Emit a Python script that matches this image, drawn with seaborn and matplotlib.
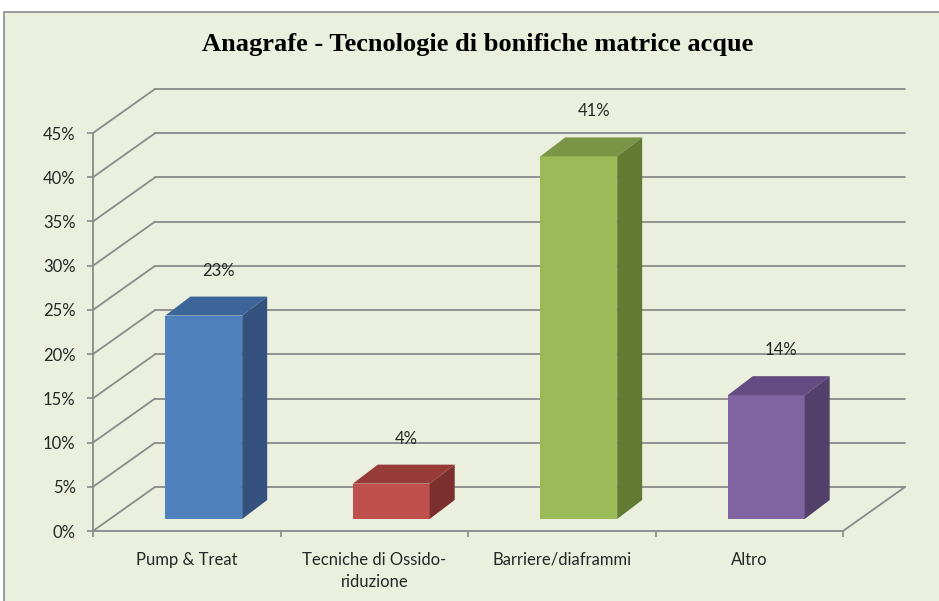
import matplotlib
matplotlib.use("Agg")
import pandas as pd
import matplotlib.pyplot as plt
import seaborn as sns
from matplotlib.patches import Polygon, Rectangle
from matplotlib.lines import Line2D
from matplotlib.transforms import offset_copy

categories = ["Pump & Treat", "Tecniche di Ossido-\nriduzione", "Barriere/diaframmi", "Altro"]
shares = [23, 4, 41, 14]
front_colors = ["#4F81BD", "#C0504D", "#9BBB59", "#8064A2"]
top_colors = ["#3C669A", "#973B39", "#7A9545", "#644C82"]
side_colors = ["#34527D", "#7C302E", "#637A33", "#523F6A"]
y_ticks = list(range(0, 50, 5))
title = "Anagrafe - Tecnologie di bonifiche matrice acque"

sns.set_theme(style="white")
plt.rcParams["font.family"] = ["Lato", "DejaVu Sans"]

W, H = 939, 601
fig = plt.figure(figsize=(W / 100, H / 100), dpi=100)
fig.patch.set_facecolor("white")
# chart area frame (cut at right/bottom like the screenshot)
fig.patches.append(Rectangle((4 / W, -0.02), 1.05, (H - 12) / H + 0.02,
                             transform=fig.transFigure, facecolor="#EBF0DE",
                             edgecolor="#8C8C8C", lw=1.2, zorder=-5))

ax = fig.add_axes([93 / W, 70 / H, 750 / W, 398 / H])
ax.set_facecolor("none")

df = pd.DataFrame({"cat": categories, "share": shares})
sns.barplot(data=df, x="cat", y="share", hue="cat", palette=front_colors,
            width=0.41, saturation=1, legend=False, ax=ax, zorder=3)
ax.set_xlim(-0.5, 3.5)
ax.set_ylim(0, 45)

# pixel -> data conversions for the fake 3d look
ux = 750 / 4
uy = 398 / 45
wall_dx, wall_dy = 62 / ux, 44 / uy   # depth of the back wall
bar_dx, bar_dy = 25 / ux, 19 / uy     # depth of each bar

grid_kw = dict(color="#8A8A8A", lw=1.3, clip_on=False, zorder=1)
for v in y_ticks:
    ax.add_line(Line2D([-0.5 + wall_dx, 3.5 + wall_dx], [v + wall_dy] * 2, **grid_kw))
    ax.add_line(Line2D([-0.5, -0.5 + wall_dx], [v, v + wall_dy], **grid_kw))
ax.add_line(Line2D([3.5, 3.5 + wall_dx], [0, wall_dy], **grid_kw))

bar_tr = offset_copy(ax.transData, fig=fig, x=17, y=12, units="dots")
for p, top_c, side_c in zip(ax.patches, top_colors, side_colors):
    p.set_transform(bar_tr)
    p.set_edgecolor("none")
    x0, w, h = p.get_x(), p.get_width(), p.get_height()
    top = [(x0, h), (x0 + w, h), (x0 + w + bar_dx, h + bar_dy), (x0 + bar_dx, h + bar_dy)]
    side = [(x0 + w, 0), (x0 + w + bar_dx, bar_dy), (x0 + w + bar_dx, h + bar_dy), (x0 + w, h)]
    ax.add_patch(Polygon(top, closed=True, facecolor=top_c, edgecolor="none",
                         transform=bar_tr, zorder=3, clip_on=False))
    ax.add_patch(Polygon(side, closed=True, facecolor=side_c, edgecolor="none",
                         transform=bar_tr, zorder=3, clip_on=False))
    lbl_tr = offset_copy(ax.transData, fig=fig, x=32, y=57, units="dots")
    ax.text(x0 + w / 2, h, f"{h:.0f}%", transform=lbl_tr, ha="center", va="center",
            fontsize=12, color="#262626", clip_on=False)

for s in ["top", "right"]:
    ax.spines[s].set_visible(False)
for s in ["left", "bottom"]:
    ax.spines[s].set_color("#8A8A8A")
    ax.spines[s].set_linewidth(1.3)

ax.set_yticks(y_ticks)
ax.set_yticklabels([f"{v}%" for v in y_ticks])
ax.set_xticks(range(len(categories)))
ax.set_xticklabels(categories, linespacing=1.5)
ax.set_xticks([-0.5, 0.5, 1.5, 2.5, 3.5], minor=True)
ax.tick_params(axis="y", length=4.5, width=1.2, color="#8A8A8A", labelsize=12,
               labelcolor="#262626", pad=8, left=True)
ax.tick_params(axis="x", which="major", length=0, labelsize=12, labelcolor="#262626", pad=15)
ax.tick_params(axis="x", which="minor", length=4.5, width=1.2, color="#8A8A8A", bottom=True)
ax.set_xlabel("")
ax.set_ylabel("")

fig.text(478 / W, 1 - 44 / H, title, ha="center", va="center",
         family="Liberation Serif", fontweight="bold", fontsize=19, color="black")

fig.savefig("out.png", dpi=100)
